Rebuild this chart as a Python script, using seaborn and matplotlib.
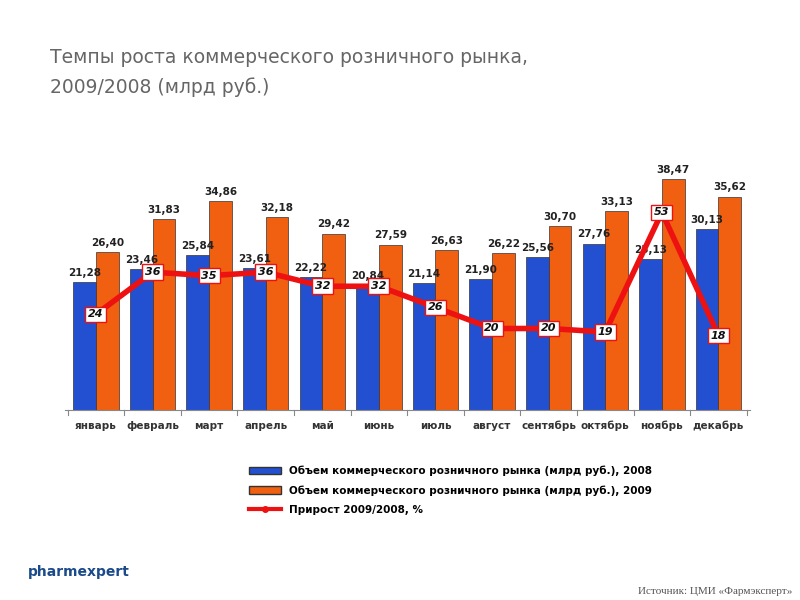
import matplotlib
matplotlib.use("Agg")
import matplotlib.pyplot as plt
import seaborn as sns
import pandas as pd
from matplotlib.lines import Line2D
from matplotlib.patches import Patch

months = ["январь","февраль","март","апрель","май","июнь","июль","август","сентябрь","октябрь","ноябрь","декабрь"]
v2008 = [21.28,23.46,25.84,23.61,22.22,20.84,21.14,21.90,25.56,27.76,25.13,30.13]
v2009 = [26.40,31.83,34.86,32.18,29.42,27.59,26.63,26.22,30.70,33.13,38.47,35.62]
growth = [24,36,35,36,32,32,26,20,20,19,53,18]

df = pd.DataFrame({"month": months*2, "val": v2008+v2009,
                   "year": ["2008"]*12+["2009"]*12})

fig = plt.figure(figsize=(8,6), dpi=100)
ax = fig.add_axes([0.081,0.317,0.856,0.45])
blue, orange, red = "#2250d0", "#f06010", "#ee1111"
sns.barplot(data=df, x="month", y="val", hue="year", palette=[blue, orange],
            ax=ax, width=0.8, saturation=1, edgecolor="#333333", linewidth=0.5, legend=False)
ax.set_ylim(0,45.1)
ax.set_xlim(-0.55,11.55)
ax.set_xlabel(""); ax.set_ylabel("")
ax.set_yticks([])
for s in ["top","right","left"]:
    ax.spines[s].set_visible(False)
ax.spines["bottom"].set_color("#888888")
ax.set_xticks(range(12))
ax.set_xticklabels(months, fontsize=7.5, fontweight="bold", color="#333333")
for i in range(13):
    ax.plot([i-0.5,i-0.5],[0,-0.8],color="#888888",lw=0.8,clip_on=False)
ax.tick_params(axis="x", length=0, pad=8)
for cont in ax.containers:
    for b in cont:
        h = b.get_height()
        ax.text(b.get_x()+b.get_width()/2, h+0.7, f"{h:.2f}".replace(".",","),
                ha="center", va="bottom", fontsize=7.5, fontweight="bold", color="#222222")

ax2 = ax.twinx()
sns.lineplot(x=list(range(12)), y=growth, ax=ax2, color=red, lw=4, sort=False)
ax2.set_ylim(-3.1,73.6)
ax2.axis("off")
for i,g in enumerate(growth):
    ax2.text(i, g, str(g), ha="center", va="center", fontsize=8, fontweight="bold",
             fontstyle="italic", color="#111111",
             bbox=dict(boxstyle="square,pad=0.25", fc="white", ec=red, lw=1))

fig.text(0.062,0.895,"Темпы роста коммерческого розничного рынка,", fontsize=13.5, color="#666666")
fig.text(0.062,0.845,"2009/2008 (млрд руб.)", fontsize=13.5, color="#666666")

handles = [Patch(fc=blue, ec="#333333"), Patch(fc=orange, ec="#333333"),
           Line2D([0],[0],color=red,lw=3,marker="o",ms=4)]
labels = ["Объем коммерческого розничного рынка (млрд руб.), 2008",
          "Объем коммерческого розничного рынка (млрд руб.), 2009",
          "Прирост 2009/2008, %"]
fig.legend(handles, labels, loc="upper left", bbox_to_anchor=(0.3,0.24), frameon=False,
           prop=dict(size=7.5, weight="bold"), handlelength=3, labelspacing=0.9)
fig.text(0.035,0.04,"pharmexpert", fontsize=10, color="#1a4a8a", fontweight="bold")
fig.text(0.99,0.01,"Источник: ЦМИ «Фармэксперт»", fontsize=8, color="#555555",
         ha="right", family="Liberation Serif")
fig.savefig("out.png", dpi=100)
